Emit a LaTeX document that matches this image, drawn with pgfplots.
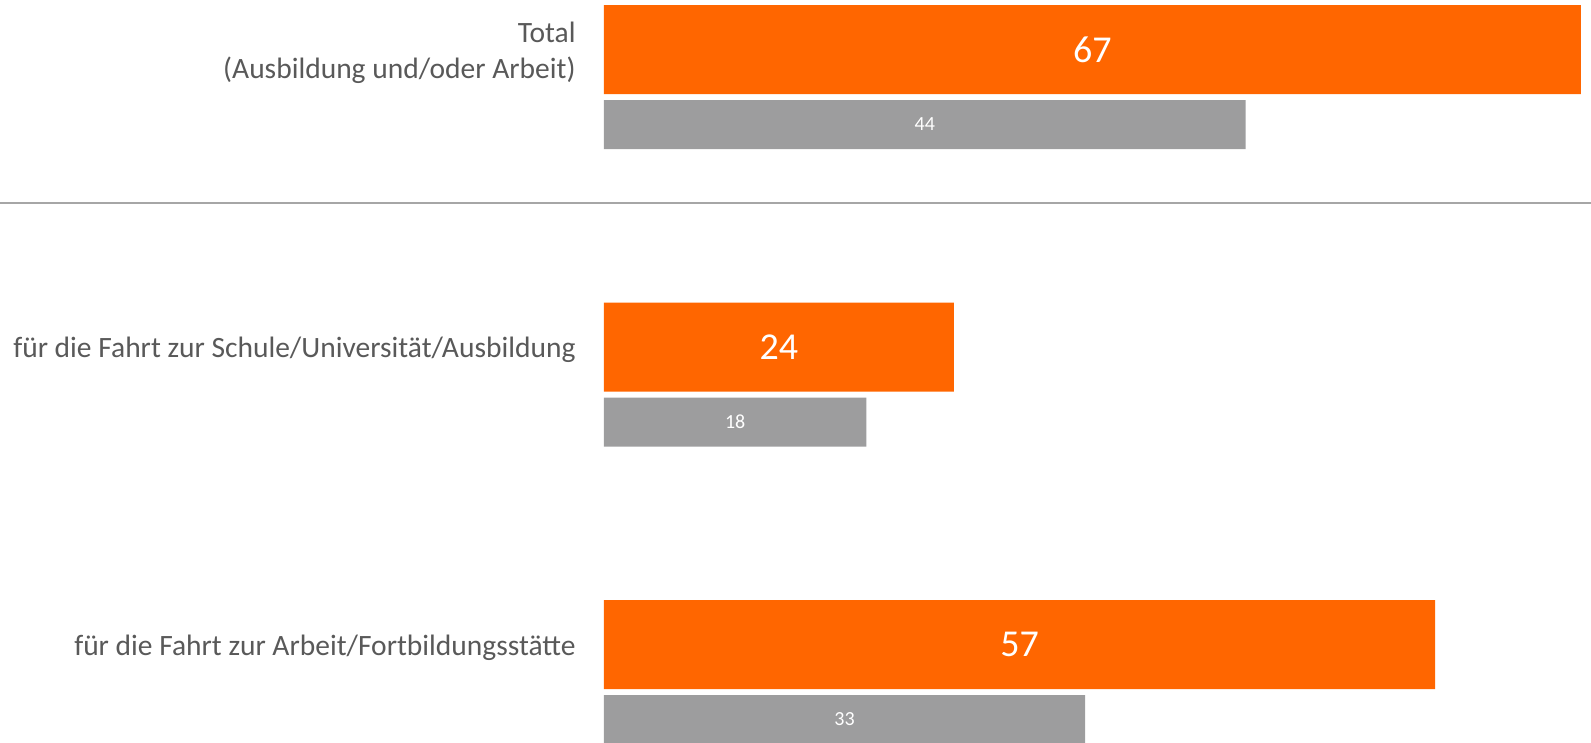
\documentclass[border=0pt]{standalone}
\usepackage{fontspec}
\setmainfont{Carlito}
\usepackage{pgfplots}
\usepackage{pgfplotstable}
\pgfplotsset{compat=1.18}
\definecolor{orng}{HTML}{FF6600}
\definecolor{gry}{HTML}{9D9D9E}
\definecolor{lbl}{HTML}{595959}
\definecolor{sep}{HTML}{A6A6A6}

\pgfplotstableread{
y v
0 67
1 24
2 57
}\orangedata
\pgfplotstableread{
y v
0 44
1 18
2 33
}\graydata

\begin{document}
\begin{tikzpicture}
\begin{axis}[
  name=ax,
  scale only axis,
  width=493.5pt, height=371pt,
  xmin=0, xmax=67.69,
  ymin=-0.1664, ymax=2.3277,
  y dir=reverse,
  axis line style={draw=none},
  major tick length=0pt,
  xtick=\empty,
  ytick={0,1,2},
  yticklabels={{Total\\(Ausbildung und/oder Arbeit)}, {für die Fahrt zur Schule/Universität/Ausbildung}, {für die Fahrt zur Arbeit/Fortbildungsstätte}},
  yticklabel style={align=right, inner sep=0pt, yshift=-1.5pt, font=\fontsize{14.75}{18}\selectfont, text=lbl},
  yticklabel shift=14pt,
  /pgf/number format/assume math mode=true,
  clip=false,
]
\addplot[xbar, bar width=0.2992, fill=orng, draw=none] table[x=v, y=y] {\orangedata};
\addplot[xbar, bar width=0.1647, bar shift=0.2521, fill=gry, draw=none] table[x=v, y=y] {\graydata};
\addplot[draw=none, mark=none, nodes near coords, point meta=explicit,
  nodes near coords style={anchor=center, text=white, font=\fontsize{19}{19}\selectfont}]
  table[x expr=\thisrow{v}/2, y=y, meta=v] {\orangedata};
\addplot[draw=none, mark=none, nodes near coords, point meta=explicit,
  nodes near coords style={anchor=center, text=white, font=\fontsize{10}{10}\selectfont}]
  table[x expr=\thisrow{v}/2, y expr=\thisrow{y}+0.2521, meta=v] {\graydata};
\draw[sep, line width=1pt] (axis cs:-41.43,0.516) -- (axis cs:67.69,0.516);
\end{axis}
\pgfresetboundingbox
\path ([xshift=-302pt]ax.south west) rectangle (ax.north east);
\end{tikzpicture}
\end{document}
